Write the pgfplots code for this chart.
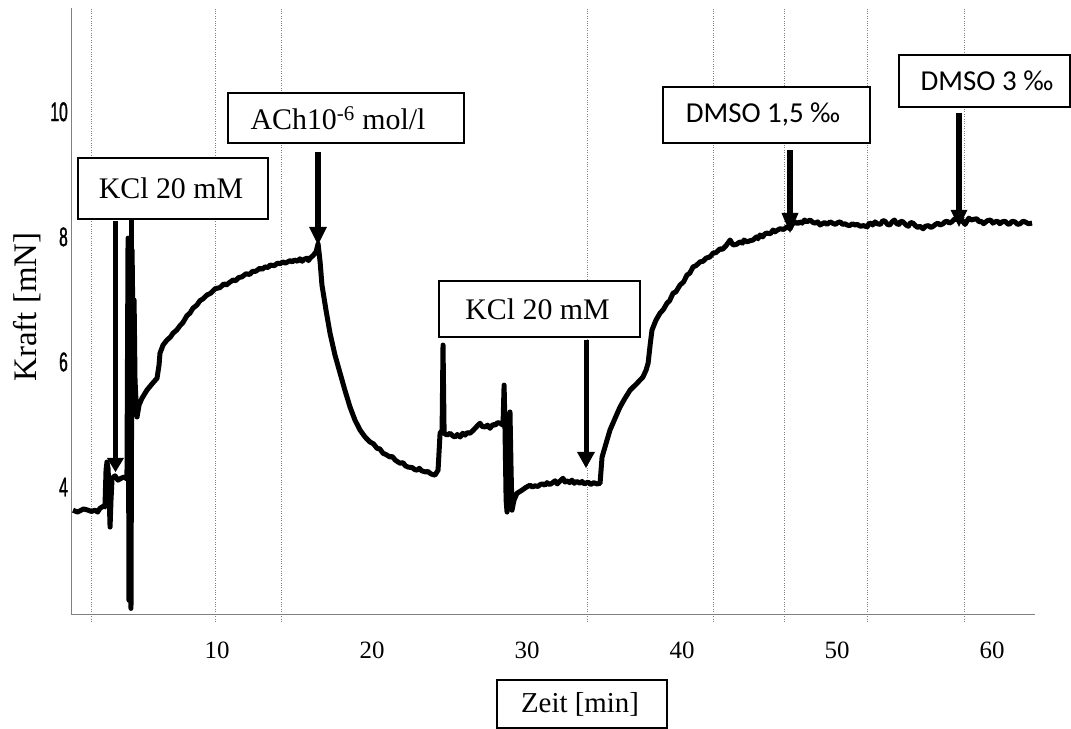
\documentclass[border=0pt]{standalone}
\usepackage{pgfplots}
\pgfplotsset{compat=1.18}
\usepackage{fontspec}
\setmainfont{Liberation Serif}
\newfontfamily\ytfont{Liberation Sans}[FakeStretch=0.58, FakeBold=1.2]
\newfontfamily\calib{Carlito}
\begin{document}
\begin{tikzpicture}
\useasboundingbox (0,0) rectangle (1071bp,729bp);
\begin{axis}[
  at={(71bp,115bp)}, anchor=south west,
  scale only axis, width=964bp, height=606bp,
  xmin=0.58, xmax=62.77, ymin=1.97, ymax=11.66,
  axis x line*=bottom, axis y line*=left,
  axis line style={gray, line width=0.9bp, -},
  xtick={10,20,30,40,50,60}, xticklabels={10,20,30,40,50,60},
  ytick={4,6,8,10}, yticklabels={4,6,8,10},
  major tick length=0pt,
  xticklabel style={font=\fontsize{25}{25}\selectfont, anchor=center, inner sep=0pt, yshift=-36bp},
  yticklabel style={font=\ytfont\fontsize{27}{27}\selectfont, anchor=east, inner sep=0pt, xshift=-3bp},
  extra x ticks={1.87,9.87,14.13,33.87,42.00,46.58,51.94,58.19},
  extra x tick labels={},
  extra x tick style={grid=major, major tick length=7bp, tick align=outside,
     major grid style={gray, dotted, line width=0.7bp},
     tick style={gray, dotted, line width=0.7bp}},
  clip=true,
]
\addplot[black, line width=5bp, line join=round] coordinates {
(0.71,3.63) (1.0,3.60) (1.16,3.62) (1.4,3.65) (1.68,3.63) (1.9,3.61) (2.13,3.63) (2.3,3.60) (2.45,3.66) (2.71,3.70)
(2.77,3.68) (2.84,4.27) (2.90,4.40) (2.97,4.30) (3.03,3.95) (3.10,3.36) (3.16,3.79) (3.23,4.14)
(3.42,4.18) (3.61,4.11) (3.81,4.14) (4.00,4.16) (4.19,4.13)
(4.26,7.98) (4.32,2.19) (4.39,7.87) (4.45,2.06) (4.52,7.79) (4.58,6.51) (4.65,6.99) (4.71,5.71)
(4.77,5.39) (4.84,5.12) (4.97,5.31) (5.16,5.42) (5.48,5.55) (5.81,5.65) (6.13,5.74) (6.26,5.95)
(6.32,6.14) (6.52,6.27) (6.77,6.35) (7.0,6.40) (7.16,6.46) (7.4,6.51) (7.61,6.58) (7.8,6.63) (8.06,6.74) (8.25,6.78) (8.45,6.86) (8.7,6.91) (8.90,6.98)
(9.1,7.01) (9.35,7.07) (9.6,7.10) (9.87,7.17) (10.2,7.19) (10.45,7.25) (10.6,7.23) (10.8,7.27) (11.03,7.31) (11.2,7.30) (11.4,7.35) (11.6,7.36) (11.87,7.41) (12.1,7.40) (12.3,7.45)
(12.5,7.45) (12.77,7.50) (12.9,7.48) (13.1,7.52) (13.3,7.51) (13.42,7.55) (13.7,7.54) (13.9,7.58) (14.06,7.57) (14.25,7.60) (14.4,7.58) (14.71,7.62) (14.85,7.60) (15.0,7.63) (15.2,7.61) (15.35,7.65)
(15.5,7.61) (15.6,7.64) (15.81,7.66) (15.9,7.62) (16.0,7.66) (16.19,7.70) (16.39,7.76) (16.52,7.89)
(16.65,7.60) (16.77,7.23) (17.03,6.83) (17.29,6.46) (17.61,6.11) (17.94,5.82) (18.26,5.54)
(18.58,5.28) (18.90,5.07) (19.23,4.91) (19.55,4.80) (19.87,4.72) (20.1,4.69) (20.32,4.62) (20.5,4.61) (20.71,4.54)
(20.9,4.52) (21.16,4.48) (21.3,4.49) (21.5,4.43) (21.81,4.38) (22.0,4.39) (22.15,4.34) (22.32,4.32) (22.6,4.31) (22.75,4.28) (22.90,4.27) (23.05,4.30) (23.2,4.26) (23.48,4.24)
(23.6,4.25) (23.8,4.21) (24.06,4.19) (24.26,4.27) (24.39,4.86) (24.52,4.91) (24.58,6.27) (24.65,4.86)
(24.84,4.83) (25.03,4.86) (25.2,4.82) (25.35,4.80) (25.5,4.84) (25.68,4.80) (25.85,4.86) (26.00,4.83) (26.15,4.87) (26.32,4.86) (26.5,4.90) (26.65,4.94)
(26.8,4.98) (26.97,5.02) (27.1,4.97) (27.29,4.96) (27.45,4.99) (27.61,4.94) (27.8,5.00) (27.94,4.99) (28.1,5.03) (28.26,5.02) (28.45,4.99)
(28.52,5.63) (28.58,4.91) (28.65,3.79) (28.71,3.60) (28.77,4.27) (28.84,4.75) (28.90,5.20)
(28.97,4.27) (29.03,3.63) (29.16,3.79) (29.35,3.90) (29.68,3.95) (29.9,3.99) (30.19,4.03) (30.35,4.00) (30.5,4.02) (30.71,4.01)
(30.85,4.04) (31.0,4.05) (31.15,4.03) (31.29,4.07) (31.45,4.04) (31.6,4.06) (31.81,4.10) (31.95,4.05) (32.1,4.09) (32.32,4.14) (32.45,4.08) (32.6,4.10) (32.75,4.07) (32.90,4.11) (33.05,4.06) (33.2,4.09) (33.42,4.06)
(33.55,4.09) (33.7,4.05) (33.94,4.08) (34.1,4.04) (34.3,4.07) (34.52,4.05) (34.71,4.06)
(34.84,4.48) (35.10,4.70) (35.35,4.91) (35.68,5.10) (36.00,5.28) (36.32,5.42) (36.65,5.55)
(37.10,5.66) (37.48,5.76) (37.68,5.87) (37.81,5.98) (37.94,6.27) (38.06,6.51) (38.32,6.67)
(38.58,6.78) (38.8,6.84) (39.03,6.94) (39.2,6.98) (39.42,7.10) (39.6,7.12) (39.87,7.23) (40.1,7.28) (40.32,7.39) (40.5,7.42) (40.71,7.52) (40.9,7.54) (41.16,7.60)
(41.35,7.61) (41.55,7.66) (41.8,7.68) (42.00,7.74) (42.2,7.75) (42.45,7.81) (42.6,7.80) (42.84,7.86) (43.10,7.95) (43.29,7.87) (43.5,7.88) (43.74,7.92)
(43.9,7.90) (44.0,7.95) (44.19,7.92) (44.4,7.94) (44.58,7.95) (44.8,8.00) (44.9,7.97) (45.03,8.03) (45.2,8.00) (45.35,8.05) (45.48,8.06) (45.7,8.05) (45.87,8.11)
(46.0,8.08) (46.1,8.10) (46.32,8.13) (46.55,8.12) (46.77,8.16) (46.97,8.13)
(47.1,8.20) (47.29,8.24) (47.45,8.21) (47.6,8.24) (47.75,8.22) (47.9,8.27) (48.05,8.24) (48.26,8.27) (48.45,8.23) (48.6,8.22) (48.75,8.24) (48.9,8.19) (49.05,8.21) (49.2,8.23) (49.35,8.20) (49.55,8.24)
(49.7,8.22) (49.9,8.20) (50.05,8.23) (50.2,8.24) (50.35,8.20) (50.5,8.21) (50.65,8.19) (50.8,8.18) (51.0,8.21) (51.16,8.19) (51.3,8.20) (51.5,8.17) (51.7,8.18) (51.94,8.16) (52.05,8.21) (52.2,8.22)
(52.3,8.19) (52.45,8.24) (52.6,8.21) (52.8,8.20) (52.95,8.26) (53.1,8.25) (53.25,8.20) (53.4,8.19) (53.55,8.24) (53.7,8.27) (53.85,8.21) (54.0,8.20) (54.1,8.25) (54.26,8.24) (54.45,8.19) (54.6,8.17)
(54.75,8.23) (54.9,8.22) (55.05,8.18) (55.2,8.15) (55.35,8.17) (55.55,8.13) (55.7,8.17) (55.9,8.18) (56.05,8.15) (56.2,8.17) (56.35,8.20) (56.5,8.22) (56.65,8.19) (56.84,8.21) (56.95,8.24) (57.1,8.25)
(57.25,8.22) (57.4,8.24) (57.61,8.29) (57.8,8.27) (57.94,8.33) (58.1,8.25) (58.26,8.20) (58.4,8.26) (58.5,8.30) (58.65,8.27) (58.8,8.28) (59.03,8.29) (59.15,8.24)
(59.3,8.25) (59.45,8.21) (59.55,8.23) (59.7,8.26) (59.9,8.27) (60.05,8.22) (60.19,8.24) (60.35,8.25) (60.5,8.21) (60.65,8.24) (60.84,8.25) (61.0,8.21) (61.1,8.20) (61.3,8.25) (61.48,8.24)
(61.65,8.20) (61.8,8.21) (62.0,8.25) (62.13,8.24) (62.35,8.21) (62.58,8.22)
};
\end{axis}
\begin{scope}[yshift=729bp, x=1bp, y=-1bp]
  % y label
  \node[rotate=90, font=\fontsize{33}{33}\selectfont, inner sep=0pt] at (27,307) {Kraft [mN]};
  % boxes
  \draw[line width=1.8bp, fill=white] (78,158) rectangle (268,219);
  \node[font=\fontsize{30}{30}\selectfont, inner sep=0pt] at (171,188.5) {KCl 20 mM};
  \draw[line width=1.8bp, fill=white] (228,93) rectangle (464,143);
  \node[font=\fontsize{30}{30}\selectfont, inner sep=0pt] at (338,118) {ACh10\textsuperscript{-6} mol/l};
  \draw[line width=1.8bp, fill=white] (439,281) rectangle (640,337);
  \node[font=\fontsize{30}{30}\selectfont, inner sep=0pt] at (537.5,309) {KCl 20 mM};
  \draw[line width=1.8bp, fill=white] (663,87) rectangle (870,143);
  \node[font=\calib\fontsize{29}{29}\selectfont, inner sep=0pt] at (763,115) {DMSO 1,5 ‰};
  \draw[line width=1.8bp, fill=white] (899,55) rectangle (1070,107);
  \node[font=\calib\fontsize{29}{29}\selectfont, inner sep=0pt] at (987,81) {DMSO 3 ‰};
  \draw[line width=1.8bp, fill=white] (497,680) rectangle (667,728);
  \node[font=\fontsize{29}{29}\selectfont, inner sep=0pt] at (580,704) {Zeit [min]};
  % arrows
  \draw[line width=5bp] (115.5,221) -- (115.5,460);
  \fill (107,458) -- (124,458) -- (115.5,472) -- cycle;
  \draw[line width=5bp] (131,219) -- (131,300);
  \draw[line width=6bp] (318,152) -- (318,229);
  \fill (309,227) -- (327,227) -- (318,245) -- cycle;
  \draw[line width=5bp] (586,340) -- (586,454);
  \fill (577,452) -- (595,452) -- (586,468) -- cycle;
  \draw[line width=5.5bp] (790,150) -- (790,215);
  \fill (781.5,213) -- (798.5,213) -- (790,233) -- cycle;
  \draw[line width=5.5bp] (959,113) -- (959,212);
  \fill (950.5,210) -- (967.5,210) -- (959,227) -- cycle;
\end{scope}
\end{tikzpicture}
\end{document}
